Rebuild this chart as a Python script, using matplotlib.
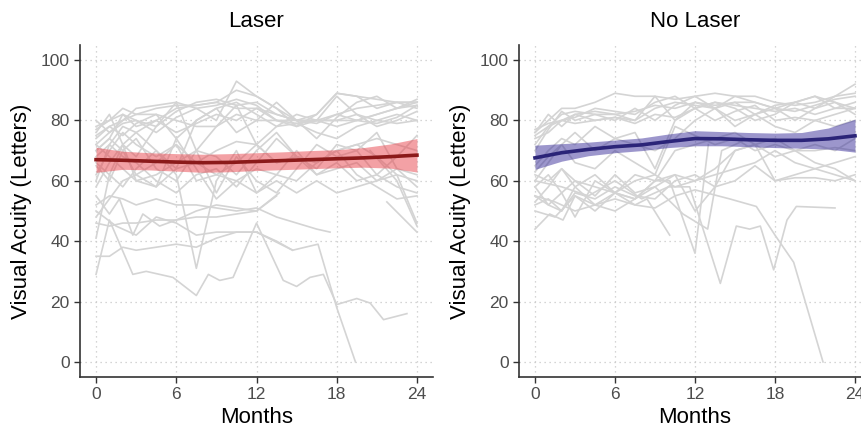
import numpy as np
import matplotlib.pyplot as plt

plt.rcParams['font.family'] = ['Liberation Sans', 'DejaVu Sans']

# visit schedule shared by most patients (months)
visits = [0, 1, 2, 3, 4.5, 6, 7.5, 9, 10.5, 12, 13.5, 15, 16.5, 18, 19.5, 21, 22.5, 24]

# ---- Laser arm: individual visual acuity trajectories ----
laser_grid = [
    [75, 78, 80, 82, 84, 85, 85, 86, 90, 88, 84, 80, 82, 89, 88, 87, 86, 86],
    [72, 76, 79, 80, 78, 83, 86, 87, 85, 86, 82, 80, 79, 82, 84, 85, 86, 84],
    [78, 80, 82, 78, 80, 76, 79, 82, 80, 84, 80, 79, 80, 82, 80, 79, 81, 85],
    [70, 74, 82, 80, 76, 81, 84, 80, 93, 88, 84, 78, 80, 88, 82, 78, 80, 83],
    [74, 78, 75, 79, 82, 74, 80, 84, 76, 80, 86, 80, 74, 81, 86, 88, 84, 87],
    [80, 76, 80, 84, 85, 86, 84, 85, 87, 85, 80, 78, 82, 89, 88, 84, 86, 86],
    [76, 82, 72, 68, 78, 86, 70, 78, 85, 72, 78, 82, 80, 78, 80, 82, 84, 86],
    [68, 72, 78, 76, 70, 64, 80, 84, 86, 82, 78, 79, 76, 74, 78, 80, 82, 80],
    [77, 80, 84, 82, 82, 80, 78, 78, 82, 80, 80, 80, 80, 80, 82, 80, 79, 80],
    [62, 70, 76, 72, 68, 72, 66, 70, 73, 72, 66, 68, 66, 70, 72, 74, 72, 70],
    [65, 60, 70, 74, 64, 60, 70, 68, 62, 70, 76, 68, 64, 72, 70, 62, 68, 75],
    [70, 74, 70, 62, 66, 72, 60, 62, 66, 72, 66, 68, 62, 64, 66, 60, 64, 58],
    [58, 66, 72, 60, 58, 74, 64, 54, 60, 64, 62, 70, 62, 66, 60, 62, 58, 56],
    [66, 62, 58, 64, 70, 62, 31, 60, 70, 56, 60, 56, 60, 56, 58, 60, 62, 60],
    [60, 72, 68, 66, 60, 56, 62, 64, 58, 66, 74, 68, 66, 70, 62, 58, 54, 55],
    [72, 68, 64, 60, 62, 66, 70, 56, 68, 60, 56, 64, 72, 68, 70, 76, 64, 62],
    [48, 54, 60, 62, 58, 64, 66, 62, 60, 56, 62, 60, 66, 70, 72, 68, 62, 46],
    [41, 62, 72, 76, 80, 84, 85, 86, 84, 84, 82, 80, 80, 80, 80, 82, 84, 85],
]
laser_other = [
    ([0, 1, 2, 3, 4.5, 6, 7.5, 9, 10.5, 12, 13.5, 15, 16.5, 17.5],
     [52, 55, 54, 52, 54, 52, 52, 51, 50, 51, 48, 46, 44, 43]),
    ([0, 1, 2, 3, 4.5, 6, 7.5, 9, 10.5, 12, 13.7],
     [46, 45, 46, 46, 47, 47, 48, 48, 49, 50, 56]),
    ([0, 1, 2, 3, 4.5, 6, 7.5, 9, 10.5, 12, 13.5, 14.7],
     [35, 35, 38, 37, 38, 39, 38, 41, 43, 43, 40, 37]),
    ([0, 1, 2.75, 3.75, 5.75, 7.5, 8.4, 9.25, 10.25, 12, 14, 15, 16, 17, 18, 19.5, 20.5, 21.5, 23.25],
     [29, 47, 29, 30, 28, 22, 29, 27, 28, 46, 27, 25, 28, 29, 19, 21, 19.5, 14, 16]),
    ([0, 1.5, 3, 4.5, 6, 7.5, 9, 10.5, 12, 14.7, 16.6, 18, 19.4],
     [50, 45, 42, 48, 46, 42, 43, 43, 43, 37, 39, 18, 0]),
    ([0, 1, 1.75, 2.75, 3.5, 4.75, 6, 7.5, 9, 10.5, 12, 13.5],
     [55, 49, 54, 42, 49, 45, 47, 50, 52, 51, 50, 55]),
    ([21.75, 24], [53, 43]),
    ([20.5, 22.5, 24], [70, 60, 45]),
]

# ---- No Laser arm ----
nolaser_grid = [
    [76, 80, 84, 84, 86, 89, 88, 88, 87, 88, 89, 88, 88, 86, 85, 86, 88, 92],
    [75, 78, 82, 83, 82, 82, 83, 85, 84, 86, 85, 86, 86, 84, 86, 88, 86, 84],
    [77, 79, 80, 82, 80, 81, 80, 84, 86, 85, 84, 86, 82, 84, 83, 85, 87, 88],
    [74, 76, 80, 81, 84, 83, 82, 86, 88, 84, 86, 85, 84, 83, 84, 82, 84, 84],
    [70, 77, 83, 80, 82, 80, 84, 80, 85, 88, 84, 80, 82, 85, 86, 88, 84, 86],
    [76, 82, 78, 82, 83, 82, 80, 88, 80, 86, 84, 88, 86, 84, 80, 84, 86, 82],
    [72, 78, 80, 79, 80, 81, 79, 82, 81, 84, 80, 83, 85, 80, 81, 80, 78, 80],
    [65, 70, 74, 72, 78, 74, 76, 64, 80, 84, 86, 84, 80, 82, 86, 84, 88, 89],
    [60, 66, 72, 76, 70, 74, 72, 70, 74, 80, 84, 78, 82, 78, 76, 80, 82, 84],
    [63, 68, 72, 66, 64, 70, 66, 62, 78, 75, 72, 74, 70, 72, 70, 70, 71, 70],
    [58, 62, 56, 60, 58, 56, 62, 60, 70, 72, 74, 76, 72, 60, 61, 61, 60, 62],
    [62, 60, 64, 58, 62, 56, 60, 62, 58, 60, 62, 64, 66, 70, 66, 64, 62, 60],
    [55, 52, 50, 56, 54, 58, 55, 54, 60, 62, 58, 70, 72, 68, 70, 72, 70, 74],
    [52, 54, 50, 58, 52, 56, 54, 60, 62, 50, 58, 60, 65, 60, 62, 64, 66, 68],
    [53, 58, 64, 60, 55, 62, 56, 58, 62, 60, 64, 70, 72, 74, 70, 66, 64, 60],
]
nolaser_other = [
    ([0, 1.5, 3, 4.5, 6, 7.5, 9, 10.5, 12, 14.6, 16.6, 18, 19.4, 21.6],
     [55, 53, 50, 52, 54, 52, 51, 55, 57, 54, 51.5, 42, 33, 0]),
    ([0, 2, 4, 6, 8, 10, 11.6, 13.9, 15.1, 16.1, 16.9, 17.9, 18.9, 19.6, 22.5],
     [60, 58, 55, 60, 54, 58, 58, 26, 45, 44, 45, 30.5, 47, 51.5, 51]),
    ([0, 1.5, 3, 4.5, 6, 7.5, 8.4, 10.1],
     [50, 48, 55, 50, 56, 52, 54, 42]),
    ([0, 1, 2, 3, 4.5, 6, 7.5, 9, 10.1, 12, 13],
     [58, 52, 56, 48, 60, 56, 54, 60, 60, 36, 72]),
    ([0, 1.1, 2.1, 3, 4.5, 6, 7.5, 9, 11.1, 12.95, 14, 15.5],
     [44, 49, 47, 55, 52, 50, 54, 58, 49, 44, 70, 73]),
]

# ---- smoothed group means with 95% bands ----
smooth_months = [0, 2, 4, 6, 8, 10, 12, 14, 16, 18, 20, 22, 24]
laser_mean = [67.0, 66.8, 66.5, 66.2, 66.0, 66.1, 66.4, 66.7, 67.0, 67.3, 67.6, 68.0, 68.5]
laser_lo = [62.8, 63.8, 63.6, 63.2, 62.8, 63.0, 63.4, 63.7, 64.0, 64.3, 64.5, 64.2, 62.9]
laser_hi = [71.1, 69.8, 69.3, 69.0, 68.8, 69.0, 69.3, 69.6, 70.0, 70.3, 71.0, 72.2, 74.0]
nolaser_mean = [67.6, 69.3, 70.4, 71.3, 71.9, 73.0, 74.0, 73.9, 73.6, 73.4, 73.4, 73.9, 74.9]
nolaser_lo = [63.8, 66.5, 68.3, 69.3, 70.0, 71.0, 71.6, 71.6, 71.3, 71.0, 70.8, 70.5, 69.5]
nolaser_hi = [71.8, 72.3, 72.8, 73.5, 74.2, 75.5, 76.6, 76.3, 76.0, 75.8, 76.0, 77.5, 80.4]

panels = [
    ('Laser', laser_grid, laser_other, laser_mean, laser_lo, laser_hi,
     '#8b1a1a', '#e8454d', [80 / 861, 0.1212, 353 / 861, 0.774]),
    ('No Laser', nolaser_grid, nolaser_other, nolaser_mean, nolaser_lo, nolaser_hi,
     '#2b2478', '#3a2f9a', [519 / 861, 0.1212, 352 / 861, 0.774]),
]

fig = plt.figure(figsize=(8.61, 4.29), dpi=100)

for title, grid, other, mean, lo, hi, lcol, bcol, pos in panels:
    ax = fig.add_axes(pos)
    for vals in grid:
        ax.plot(visits, vals, color='#d4d4d4', lw=1.2, zorder=1)
    for m, vals in other:
        ax.plot(m, vals, color='#d4d4d4', lw=1.2, zorder=1)
    ax.fill_between(smooth_months, lo, hi, color=bcol, alpha=0.5, lw=0, zorder=2)
    ax.plot(smooth_months, mean, color=lcol, lw=2.6, zorder=3)

    ax.set_xlim(-1.2, 25.2)
    ax.set_ylim(-5, 105)
    ax.set_xticks([0, 6, 12, 18, 24])
    ax.set_yticks([0, 20, 40, 60, 80, 100])
    ax.grid(True, linestyle=(0, (1, 3)), color='#c8c8c8', lw=0.9, zorder=0)
    ax.set_axisbelow(True)
    for s in ['top', 'right']:
        ax.spines[s].set_visible(False)
    for s in ['left', 'bottom']:
        ax.spines[s].set_color('#333333')
        ax.spines[s].set_linewidth(1.2)
    ax.tick_params(direction='out', length=4, width=1, color='#333333',
                   labelcolor='#4d4d4d', labelsize=12.5)
    ax.set_title(title, fontsize=16, pad=13)
    ax.set_xlabel('Months', fontsize=16, labelpad=3)
    ax.set_ylabel('Visual Acuity (Letters)', fontsize=16, labelpad=6)

plt.savefig('out.png', dpi=100)
